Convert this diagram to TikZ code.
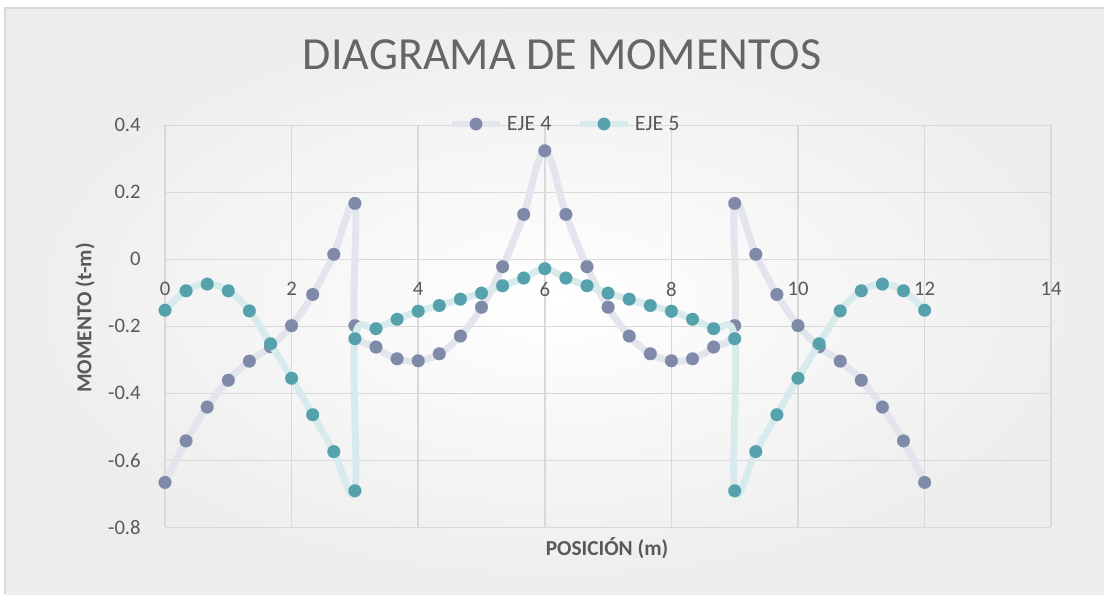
\documentclass[tikz,border=0pt]{standalone}
\usepackage{fontspec}
\setmainfont{Carlito}
\usetikzlibrary{positioning}
\definecolor{txtgray}{HTML}{595959}
\definecolor{titlegray}{HTML}{666666}
\definecolor{gridgray}{HTML}{D9D9D9}
\definecolor{eje4dark}{HTML}{7F8AA8}
\definecolor{eje4light}{HTML}{E2E5EC}
\definecolor{eje5dark}{HTML}{56A2AC}
\definecolor{eje5light}{HTML}{D8EBEC}
\tikzset{%
	% Specifications for style of chart parts:
	gridline/.style = {draw=gridgray, line width=1.1pt},
	ticklbl/.style = {text=txtgray, font=\fontsize{15.5}{18}\selectfont, inner sep=0pt},
	leglbl/.style = {ticklbl, font=\fontsize{16.5}{19}\selectfont},
	axistitle/.style = {text=txtgray, font=\fontsize{16}{19}\selectfont\bfseries, inner sep=0pt},
	serie/.style = {line width=5.2pt, line cap=round, line join=round},
	eje4line/.style = {serie, draw=eje4light, mark options={draw=eje4dark, fill=eje4dark, line width=0.1pt}},
	eje5line/.style = {serie, draw=eje5light, mark options={draw=eje5dark, fill=eje5dark, line width=0.1pt}},
	eje4dot/.style = {circle, fill=eje4dark, minimum size=9.6pt, inner sep=0pt},
	eje5dot/.style = {circle, fill=eje5dark, minimum size=9.6pt, inner sep=0pt},
}

\begin{document}
\begin{tikzpicture}[x=0.75pt,y=-0.75pt]
		\useasboundingbox (0,0) rectangle (1104,594);
		\fill[white] (0,0) rectangle (1104,594);
		\shade[inner color=white, outer color=black!7] (5,8) rectangle (1104,594);
		\draw[gridgray, line width=1.1pt] (5,594) -- (5,8) -- (1104,8);
		
		\node (Titulo) [text=titlegray, font=\fontsize{34.5}{41}\selectfont, inner sep=0pt] at (562,55) {DIAGRAMA DE MOMENTOS};
		\node (EjeX) [axistitle] at (607,548) {POSICIÓN (m)};
		\node (EjeY) [axistitle, rotate=90] at (85,318) {MOMENTO (t-m)};
		
		\begin{scope}[shift={(165,259.3)}, x=47.475pt, y=251.25pt]
		% rejilla
		\foreach \gx in {0,2,...,14}
			\draw[gridline] (\gx,-0.8) -- (\gx,0.4);
		\foreach \k in {-4,...,2}
			\draw[gridline] (0,\k/5) -- (14,\k/5);
		
		% etiquetas
		\foreach \k/\lbl [count=\i] in {2/0.4, 1/0.2, 0/0, -1/-0.2, -2/-0.4, -3/-0.6, -4/-0.8}
			\node (ylbl\i) [ticklbl, anchor=east] at (-0.38,\k/5) {\lbl};
		\foreach \gx [count=\i] in {0,2,...,14}
			\node (xlbl\i) [ticklbl] at (\gx,-0.089) {\gx};
		
		% EJE 4
		\draw[eje4line] plot[smooth, tension=0.6, mark=*, mark size=4.8pt] coordinates {
			(0,-0.666) (0.3333,-0.542) (0.6667,-0.441) (1,-0.361) (1.3333,-0.304) (1.6667,-0.261)
			(2,-0.198) (2.3333,-0.105) (2.6667,0.015) (3,0.167) (3,-0.198) (3.3333,-0.262)
			(3.6667,-0.297) (4,-0.303) (4.3333,-0.282) (4.6667,-0.229) (5,-0.143) (5.3333,-0.022)
			(5.6667,0.134) (6,0.324) (6.3333,0.134) (6.6667,-0.022) (7,-0.143) (7.3333,-0.229)
			(7.6667,-0.282) (8,-0.303) (8.3333,-0.297) (8.6667,-0.262) (9,-0.198) (9,0.167)
			(9.3333,0.015) (9.6667,-0.105) (10,-0.198) (10.3333,-0.261) (10.6667,-0.304) (11,-0.361)
			(11.3333,-0.441) (11.6667,-0.542) (12,-0.666)};
		
		% EJE 5
		\draw[eje5line] plot[smooth, tension=0.6, mark=*, mark size=4.8pt] coordinates {
			(0,-0.152) (0.3333,-0.094) (0.6667,-0.074) (1,-0.094) (1.3333,-0.154) (1.6667,-0.252)
			(2,-0.355) (2.3333,-0.464) (2.6667,-0.574) (3,-0.691) (3,-0.237) (3.3333,-0.207)
			(3.6667,-0.179) (4,-0.155) (4.3333,-0.138) (4.6667,-0.119) (5,-0.101) (5.3333,-0.079)
			(5.6667,-0.056) (6,-0.028) (6.3333,-0.056) (6.6667,-0.079) (7,-0.101) (7.3333,-0.119)
			(7.6667,-0.138) (8,-0.155) (8.3333,-0.179) (8.6667,-0.207) (9,-0.237) (9,-0.691)
			(9.3333,-0.574) (9.6667,-0.464) (10,-0.355) (10.3333,-0.252) (10.6667,-0.154) (11,-0.094)
			(11.3333,-0.074) (11.6667,-0.094) (12,-0.152)};
		\end{scope}
		
		% leyenda
		\coordinate (L4) at (476,124);
		\coordinate (L5) at (604,124);
		\draw[serie, draw=eje4light, line cap=butt] ([xshift=-18pt]L4) -- ([xshift=18pt]L4);
		\draw[serie, draw=eje5light, line cap=butt] ([xshift=-18pt]L5) -- ([xshift=18pt]L5);
		\node (Dot4) [eje4dot] at (L4) {};
		\node (Leg4) [leglbl, right=23pt of Dot4.center, anchor=west] {EJE 4};
		\node (Dot5) [eje5dot] at (L5) {};
		\node (Leg5) [leglbl, right=23pt of Dot5.center, anchor=west] {EJE 5};
     \end{tikzpicture}
\end{document}
